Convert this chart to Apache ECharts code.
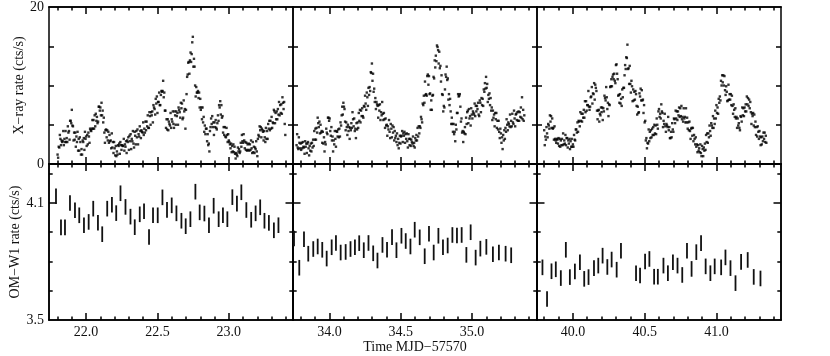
<!DOCTYPE html>
<html>
<head>
<meta charset="utf-8">
<script src="https://cdn.jsdelivr.net/npm/echarts@6/dist/echarts.min.js"></script>
<style>
  html, body { margin: 0; background: #fff; }
  #main { width: 830px; height: 356px; }
</style>
</head>
<body>
<div id="main"></div>
<script>
// X-ray rate (cts/s), one reading every DT days from each panel's start time
const DT = 0.004;
const xrayStart = [21.80, 33.77, 39.80];
const xray1 = [
  1.2, 0.8, 2.2, 2.1, 3.7, 3.2, 2.4, 3.0, 2.8, 2.9, 4.2, 2.4, 3.2, 2.8, 4.2, 2.8, 3.3, 2.8, 4.8, 4.0,
  4.2, 3.1, 5.5, 5.5, 5.2, 6.9, 4.9, 4.8, 3.0, 4.0, 3.1, 4.0, 2.2, 3.5, 2.8, 4.1, 1.7, 3.2, 1.7, 3.4,
  2.8, 1.2, 1.9, 1.2, 3.0, 2.8, 3.3, 1.8, 4.1, 3.2, 3.5, 2.3, 3.7, 2.5, 4.0, 3.5, 2.7, 4.5, 4.3, 4.2,
  4.5, 5.6, 4.5, 5.6, 4.5, 6.2, 4.8, 6.4, 5.5, 6.0, 5.2, 5.4, 7.3, 7.3, 6.8, 7.2, 6.2, 7.8, 6.2, 6.8,
  5.3, 5.9, 4.0, 2.7, 4.3, 4.4, 3.4, 4.3, 3.0, 4.1, 2.7, 3.7, 2.9, 3.0, 2.0, 3.9, 2.1, 2.8, 1.4, 2.8,
  2.0, 1.1, 2.3, 1.0, 1.6, 1.2, 2.4, 2.3, 2.6, 1.3, 2.8, 2.4, 1.8, 2.4, 2.3, 2.3, 3.2, 1.7, 2.5, 2.2,
  2.9, 1.4, 3.0, 2.8, 3.4, 1.8, 3.6, 2.9, 3.8, 1.9, 3.2, 2.9, 4.2, 2.6, 2.1, 4.1, 3.6, 2.5, 4.2, 3.4,
  4.4, 2.5, 3.8, 3.5, 4.8, 4.2, 3.3, 4.3, 4.1, 4.0, 5.3, 3.7, 4.5, 4.0, 5.4, 4.3, 5.4, 4.8, 6.2, 4.6,
  4.6, 6.6, 6.1, 5.0, 6.6, 6.2, 6.7, 5.3, 7.5, 7.2, 7.0, 6.3, 8.3, 7.7, 8.6, 6.5, 7.9, 7.9, 9.1, 7.5,
  7.5, 8.8, 9.3, 9.2, 9.3, 10.6, 8.5, 9.1, 6.8, 6.8, 4.6, 5.7, 4.4, 5.7, 4.3, 5.4, 5.1, 4.9, 6.5, 4.6,
  5.7, 5.4, 6.7, 5.1, 4.6, 6.7, 6.2, 5.0, 6.7, 6.1, 6.5, 5.0, 7.2, 6.9, 6.6, 5.9, 7.8, 7.1, 7.7, 5.7,
  5.9, 8.1, 6.7, 7.0, 4.5, 6.9, 8.9, 11.1, 11.4, 12.9, 13.0, 11.5, 13.2, 14.2, 13.0, 14.0, 15.5, 16.2, 12.4, 13.4,
  12.4, 10.0, 8.6, 9.8, 9.1, 9.1, 9.3, 8.4, 9.1, 7.2, 8.3, 6.9, 7.2, 5.7, 7.2, 5.3, 6.0, 4.1, 4.9, 3.8,
  4.5, 4.5, 2.9, 3.8, 2.4, 2.6, 1.6, 4.2, 4.7, 5.8, 5.1, 6.1, 4.7, 5.3, 3.7, 5.3, 4.7, 5.6, 4.6, 4.4,
  5.2, 6.2, 5.5, 7.5, 7.2, 8.0, 6.3, 7.5, 5.9, 6.1, 4.0, 4.7, 3.7, 4.7, 3.5, 3.4, 4.6, 3.7, 2.8, 3.8,
  3.0, 2.8, 2.5, 2.0, 2.6, 1.5, 2.3, 1.6, 2.5, 1.5, 2.2, 1.3, 0.7, 1.4, 1.2, 1.0, 2.1, 1.6, 1.9, 1.4,
  1.6, 2.7, 2.2, 3.7, 2.9, 2.7, 3.8, 3.0, 2.0, 2.8, 1.8, 2.7, 1.7, 2.5, 1.8, 2.6, 1.7, 2.5, 1.8, 3.0,
  2.0, 1.4, 2.8, 1.5, 2.2, 1.4, 2.1, 1.9, 2.9, 1.6, 1.0, 3.2, 3.7, 3.5, 4.8, 4.3, 4.7, 3.4, 4.5, 4.3,
  4.1, 3.0, 4.2, 3.4, 2.8, 4.6, 3.2, 4.2, 3.2, 5.1, 4.5, 5.5, 4.3, 5.5, 4.5, 6.0, 4.6, 5.3, 5.2, 6.9,
  6.7, 5.2, 6.5, 5.7, 6.7, 5.7, 7.0, 6.3, 7.9, 6.2, 7.5, 6.5, 7.6, 6.4, 8.5, 7.8, 7.0, 7.9, 5.1, 3.7
];
const xray2 = [
  2.4, 3.8, 2.1, 1.9, 3.4, 2.7, 2.0, 2.6, 1.8, 2.7, 2.0, 2.8, 2.2, 2.1, 1.3, 2.9, 2.2, 2.6, 1.4, 2.6,
  2.8, 2.0, 1.1, 2.3, 1.7, 2.6, 1.6, 2.7, 2.1, 3.1, 2.3, 4.2, 3.1, 4.5, 3.1, 4.6, 4.0, 5.9, 5.2, 4.7,
  5.4, 3.9, 5.0, 4.0, 4.2, 2.7, 4.1, 2.6, 3.4, 1.6, 2.8, 2.5, 4.5, 4.0, 3.8, 5.9, 5.9, 5.5, 5.8, 4.2,
  3.6, 4.7, 3.0, 3.5, 1.6, 3.0, 2.5, 4.2, 3.2, 2.2, 4.2, 4.1, 3.5, 4.4, 3.4, 4.5, 3.5, 5.3, 4.9, 6.2,
  7.3, 6.3, 7.8, 7.3, 7.0, 5.4, 4.3, 5.3, 4.7, 3.7, 5.0, 4.2, 4.7, 3.2, 4.6, 4.3, 5.2, 4.6, 6.6, 5.7,
  4.8, 5.8, 4.2, 4.5, 3.3, 5.2, 4.4, 5.3, 4.6, 6.5, 5.5, 6.9, 5.3, 6.8, 6.1, 7.1, 6.1, 5.9, 7.4, 7.3,
  8.7, 7.7, 6.9, 9.1, 8.5, 7.4, 9.7, 8.8, 9.8, 9.3, 11.7, 11.6, 12.8, 10.6, 11.5, 9.2, 9.6, 7.9, 8.4, 7.0,
  7.9, 7.6, 7.4, 5.9, 7.5, 6.8, 7.6, 5.6, 6.6, 6.2, 7.9, 6.4, 5.6, 6.5, 5.7, 4.6, 5.8, 4.9, 5.0, 3.6,
  4.8, 4.4, 5.6, 4.1, 3.3, 5.1, 4.5, 3.4, 4.9, 4.0, 4.7, 3.0, 4.2, 3.3, 3.6, 2.8, 3.9, 2.4, 3.2, 2.0,
  2.7, 3.6, 2.6, 3.5, 3.6, 4.2, 2.8, 3.9, 3.6, 4.1, 2.7, 3.8, 3.2, 3.9, 2.9, 2.1, 3.8, 3.2, 2.4, 3.2,
  2.3, 3.1, 2.8, 2.6, 3.5, 2.3, 2.7, 2.1, 3.3, 3.0, 3.7, 3.0, 4.6, 3.5, 4.8, 3.9, 4.8, 4.6, 6.0, 5.7,
  5.3, 7.7, 7.5, 8.7, 7.8, 10.5, 8.8, 8.9, 8.7, 11.2, 11.4, 10.1, 11.2, 8.9, 9.0, 6.9, 8.1, 6.9, 8.7, 8.8,
  11.1, 10.9, 13.2, 12.3, 13.8, 13.1, 15.1, 14.9, 14.5, 12.8, 14.3, 12.2, 12.5, 10.5, 11.3, 8.9, 8.8, 6.7, 7.4, 7.2,
  9.5, 11.4, 11.1, 12.4, 10.7, 10.9, 8.2, 8.9, 7.5, 8.3, 6.7, 5.1, 5.9, 5.1, 4.1, 5.1, 3.8, 4.1, 2.9, 5.0,
  4.4, 6.5, 6.5, 8.9, 8.6, 8.7, 8.9, 7.3, 5.4, 5.8, 4.0, 4.2, 2.8, 4.1, 3.9, 4.7, 3.8, 5.9, 5.1, 6.6,
  6.8, 5.2, 7.0, 5.8, 6.1, 4.9, 7.1, 6.3, 5.8, 6.7, 6.5, 6.3, 7.7, 6.1, 7.4, 6.7, 7.4, 7.0, 7.8, 6.3,
  6.1, 8.1, 7.8, 6.6, 8.4, 7.5, 8.3, 7.4, 9.5, 9.2, 10.3, 9.6, 11.1, 9.7, 10.2, 7.9, 8.8, 8.3, 9.0, 7.5,
  8.4, 6.8, 7.2, 5.6, 6.8, 5.9, 6.3, 4.8, 6.5, 5.7, 6.5, 4.6, 5.5, 4.4, 5.5, 4.1, 3.3, 4.5, 3.9, 2.7,
  3.4, 1.9, 3.7, 3.0, 4.3, 3.2, 4.6, 4.1, 5.7, 5.0, 4.3, 5.3, 5.1, 4.8, 6.3, 4.7, 5.5, 4.8, 6.4, 5.3,
  5.1, 6.8, 5.8, 4.8, 6.3, 6.4, 5.6, 6.6, 5.5, 6.7, 5.5, 6.6, 6.0, 7.2, 5.9, 8.5, 5.7, 6.9, 5.5, 6.2
];
const xray3 = [
  4.3, 2.4, 3.5, 3.1, 4.7, 3.9, 3.4, 5.1, 4.9, 4.5, 6.2, 5.4, 6.1, 4.6, 5.8, 4.5, 4.6, 3.1, 4.8, 3.2,
  3.0, 2.7, 3.2, 3.1, 2.6, 3.3, 2.3, 3.2, 2.2, 3.0, 2.4, 3.2, 2.4, 3.9, 2.5, 3.0, 2.6, 3.7, 2.4, 3.3,
  3.3, 2.1, 3.0, 2.6, 3.2, 1.9, 2.9, 2.2, 3.2, 2.2, 2.5, 2.2, 3.7, 3.1, 3.0, 4.4, 4.4, 4.0, 5.3, 4.1,
  5.5, 5.4, 4.8, 6.6, 5.5, 6.4, 5.4, 6.4, 5.9, 6.9, 5.9, 8.0, 6.6, 8.0, 6.8, 7.5, 7.5, 9.3, 7.3, 6.9,
  7.3, 8.5, 8.6, 9.8, 7.7, 9.0, 8.9, 10.3, 8.2, 10.1, 9.7, 9.3, 6.8, 5.7, 6.8, 6.9, 5.4, 6.4, 6.2, 7.2,
  6.6, 7.2, 5.6, 7.1, 6.7, 8.7, 8.4, 8.1, 9.8, 8.5, 7.0, 7.8, 6.1, 7.6, 7.5, 9.8, 9.9, 10.8, 9.9, 11.1,
  11.4, 10.8, 11.5, 10.6, 10.3, 12.6, 12.7, 11.5, 10.8, 8.7, 8.8, 7.8, 8.9, 7.7, 8.3, 7.4, 9.5, 8.5, 9.7, 9.7,
  11.3, 12.6, 12.1, 13.6, 13.5, 15.2, 12.1, 12.2, 10.2, 12.5, 10.2, 9.1, 10.6, 9.9, 8.0, 9.5, 8.1, 9.2, 8.2, 9.3,
  8.9, 7.4, 6.3, 7.3, 6.5, 6.6, 9.0, 8.6, 9.6, 8.1, 9.4, 8.1, 8.2, 6.5, 7.5, 5.3, 5.5, 3.0, 3.3, 2.0,
  2.7, 2.6, 4.4, 2.9, 4.1, 3.3, 4.3, 3.4, 4.5, 3.7, 4.7, 3.7, 5.0, 3.9, 4.9, 3.8, 5.8, 5.0, 4.5, 6.7,
  7.0, 6.0, 6.4, 5.8, 7.6, 6.7, 6.5, 4.7, 5.5, 5.1, 6.4, 4.8, 4.1, 5.1, 4.9, 4.7, 6.0, 4.3, 4.7, 3.3,
  3.3, 4.1, 3.4, 5.2, 4.4, 4.1, 5.8, 5.7, 5.2, 6.8, 5.8, 6.7, 5.6, 6.7, 6.2, 7.2, 6.0, 7.1, 6.1, 7.4,
  5.7, 6.0, 5.4, 7.1, 5.8, 6.0, 5.3, 7.1, 5.3, 5.9, 4.5, 5.3, 4.3, 5.4, 4.2, 3.2, 4.5, 4.6, 3.6, 4.6,
  2.9, 3.7, 3.2, 2.5, 3.4, 2.2, 2.5, 1.5, 2.4, 1.7, 2.0, 1.5, 2.5, 1.4, 1.0, 2.3, 1.9, 1.0, 2.1, 1.7,
  2.6, 1.8, 3.7, 2.8, 3.9, 2.7, 3.9, 3.4, 4.9, 4.2, 3.6, 5.2, 4.9, 4.6, 6.1, 4.6, 5.8, 5.1, 6.8, 5.8,
  7.5, 6.5, 7.2, 6.4, 8.3, 7.8, 8.6, 8.1, 10.6, 10.0, 11.3, 10.4, 11.3, 10.0, 11.2, 9.4, 8.8, 9.9, 9.2, 8.0,
  8.1, 10.1, 8.2, 8.9, 8.2, 8.9, 7.5, 8.7, 7.4, 6.4, 7.6, 6.9, 6.0, 7.1, 5.8, 6.0, 4.6, 5.8, 4.9, 5.2,
  4.6, 4.3, 6.1, 6.0, 5.4, 7.2, 6.2, 7.1, 6.1, 7.2, 6.7, 7.6, 6.7, 8.6, 7.6, 8.4, 7.4, 8.2, 7.1, 7.9,
  6.6, 5.1, 6.4, 6.1, 6.5, 4.9, 6.3, 4.7, 5.4, 3.7, 4.7, 3.5, 4.8, 4.1, 3.2, 4.2, 3.5, 2.4, 3.4, 2.5,
  3.5, 2.9, 4.0, 3.2, 4.0, 2.8, 3.6, 2.7
];

// OM-W1 rate (cts/s) with a common half error bar
const omErr = 0.04;
const omTime1 = [21.789, 21.824, 21.852, 21.887, 21.922, 21.952, 21.985, 22.018, 22.050, 22.083,
  22.113, 22.148, 22.181, 22.211, 22.241, 22.276, 22.311, 22.341, 22.376, 22.406,
  22.441, 22.469, 22.502, 22.535, 22.567, 22.600, 22.633, 22.668, 22.698, 22.731,
  22.766, 22.796, 22.829, 22.861, 22.894, 22.929, 22.959, 22.990, 23.025, 23.057,
  23.088, 23.123, 23.157, 23.188, 23.220, 23.250, 23.281, 23.316, 23.348];
const omRate1 = [4.135, 3.975, 3.975, 4.100, 4.063, 4.037, 3.986, 4.003, 4.071, 3.999,
  3.940, 4.071, 4.091, 4.048, 4.150, 4.080, 4.030, 3.976, 4.042, 4.058,
  3.926, 4.037, 4.037, 4.129, 4.065, 4.088, 4.047, 4.009, 3.981, 4.017,
  4.158, 4.052, 4.046, 3.986, 4.086, 4.017, 4.037, 4.017, 4.130, 4.097,
  4.155, 4.064, 4.014, 4.047, 4.078, 4.009, 3.998, 3.960, 3.986];
const omTime2 = [33.752, 33.789, 33.822, 33.852, 33.887, 33.918, 33.950, 33.981, 34.016, 34.046,
  34.079, 34.114, 34.148, 34.179, 34.209, 34.241, 34.274, 34.307, 34.337, 34.372,
  34.404, 34.439, 34.470, 34.505, 34.535, 34.568, 34.598, 34.633, 34.668, 34.698,
  34.731, 34.764, 34.796, 34.829, 34.862, 34.894, 34.927, 34.960, 34.990, 35.025,
  35.058, 35.100, 35.146, 35.188, 35.235, 35.274];
const omRate2 = [3.918, 3.768, 3.914, 3.840, 3.864, 3.877, 3.860, 3.815, 3.873, 3.895,
  3.846, 3.849, 3.864, 3.873, 3.894, 3.858, 3.895, 3.842, 3.805, 3.885,
  3.860, 3.925, 3.858, 3.932, 3.905, 3.877, 3.963, 3.924, 3.827, 3.942,
  3.846, 3.932, 3.873, 3.882, 3.936, 3.933, 3.936, 3.834, 3.950, 3.820,
  3.866, 3.875, 3.837, 3.846, 3.840, 3.832];
const omTime3 = [39.788, 39.820, 39.851, 39.881, 39.916, 39.951, 39.979, 40.014, 40.049, 40.079,
  40.109, 40.147, 40.177, 40.207, 40.240, 40.270, 40.305, 40.335, 40.440, 40.468,
  40.503, 40.533, 40.566, 40.592, 40.631, 40.662, 40.697, 40.729, 40.762, 40.795,
  40.827, 40.860, 40.893, 40.925, 40.958, 40.988, 41.033, 41.063, 41.098, 41.133,
  41.172, 41.218, 41.260, 41.307];
const omRate3 = [3.770, 3.608, 3.750, 3.760, 3.715, 3.860, 3.720, 3.749, 3.796, 3.711,
  3.720, 3.766, 3.779, 3.830, 3.772, 3.810, 3.758, 3.855, 3.740, 3.728,
  3.800, 3.813, 3.722, 3.722, 3.779, 3.740, 3.796, 3.779, 3.731, 3.855,
  3.762, 3.848, 3.894, 3.775, 3.740, 3.775, 3.770, 3.821, 3.766, 3.689,
  3.798, 3.808, 3.721, 3.713];

// axes
const timeRanges = [[21.74, 23.45], [33.745, 35.455], [39.75, 41.45]];
const timeLabels = [[22.0, 22.5, 23.0], [34.0, 34.5, 35.0], [40.0, 40.5, 41.0]];
const xrayTicks = [5, 10, 15];
const xrayLabels = [0, 20];
const omMajorTicks = [4.1];
const omMinorTicks = [3.65, 3.8, 3.95, 4.25];
const omLabels = [3.5, 4.1];

const xrayData = [xray1, xray2, xray3];
const omTimes = [omTime1, omTime2, omTime3];
const omRates = [omRate1, omRate2, omRate3];

const FONT = 'Liberation Serif';
const INK = '#000';

function minorTimeTicks(range, major) {
  const out = [];
  for (let k = Math.ceil(range[0] * 10); k <= Math.floor(range[1] * 10); k++) {
    const v = k / 10;
    if (!major.some(m => Math.abs(m - v) < 1e-6)) out.push(v);
  }
  return out;
}

function axis(gridIndex, position, min, max, ticks, len, labels, fmt) {
  return {
    type: 'value', gridIndex, position, min, max,
    axisLine: { show: true, onZero: false, lineStyle: { color: INK, width: 1.5 } },
    axisTick: ticks.length
      ? { show: true, inside: true, length: len, customValues: ticks, lineStyle: { color: INK, width: 1.5 } }
      : { show: false },
    axisLabel: labels
      ? { show: true, customValues: labels, formatter: fmt, margin: 5, color: '#111', fontFamily: FONT, fontSize: 14 }
      : { show: false },
    splitLine: { show: false },
    nameTextStyle: { fontFamily: FONT, fontSize: 14, color: '#111' },
  };
}

const grids = [], xAxes = [], yAxes = [], series = [];
const rows = [
  { top: 7, height: 157, min: 0, max: 20 },
  { top: 164, height: 156, min: 3.5, max: 4.3 },
];

rows.forEach((row, r) => {
  for (let p = 0; p < 3; p++) {
    const g = grids.length;
    grids.push({ left: 49 + p * 244, top: row.top, width: 244, height: row.height });
    const [t0, t1] = timeRanges[p];
    const minor = minorTimeTicks(timeRanges[p], timeLabels[p]);
    const xi = xAxes.length;
    const xb = axis(g, 'bottom', t0, t1, timeLabels[p], 7, r === 1 ? timeLabels[p] : null, v => v.toFixed(1));
    if (r === 1 && p === 1) {
      xb.name = 'Time MJD\u221257570';
      xb.nameLocation = 'middle';
      xb.nameGap = 17;
    }
    xAxes.push(xb,
      axis(g, 'bottom', t0, t1, minor, 3.5),
      axis(g, 'top', t0, t1, timeLabels[p], 7),
      axis(g, 'top', t0, t1, minor, 3.5));

    const yi = yAxes.length;
    let yl;
    if (r === 0) {
      yl = axis(g, 'left', row.min, row.max, xrayTicks, 5, p === 0 ? xrayLabels : null, v => String(v));
      yAxes.push(yl, axis(g, 'right', row.min, row.max, xrayTicks, 5));
    } else {
      yl = axis(g, 'left', row.min, row.max, omMajorTicks, 7.5, p === 0 ? omLabels : null, v => v.toFixed(1));
      yAxes.push(yl,
        axis(g, 'left', row.min, row.max, omMinorTicks, 3.7),
        axis(g, 'right', row.min, row.max, omMajorTicks, 7.5),
        axis(g, 'right', row.min, row.max, omMinorTicks, 3.7));
    }
    if (p === 0) {
      yl.name = r === 0 ? 'X\u2212ray rate (cts/s)' : 'OM\u2212W1 rate (cts/s)';
      yl.nameLocation = 'middle';
      yl.nameGap = 22;
    }

    if (r === 0) {
      series.push({
        type: 'scatter', xAxisIndex: xi, yAxisIndex: yi,
        symbol: 'rect', symbolSize: 2.4,
        itemStyle: { color: INK },
        data: xrayData[p].map((v, i) => [xrayStart[p] + i * DT, v]),
      });
    } else {
      series.push({
        type: 'custom', xAxisIndex: xi, yAxisIndex: yi,
        data: omTimes[p].map((t, i) => [t, omRates[p][i], omErr]),
        encode: { x: 0, y: 1 },
        renderItem(params, api) {
          const lo = api.coord([api.value(0), api.value(1) - api.value(2)]);
          const hi = api.coord([api.value(0), api.value(1) + api.value(2)]);
          return {
            type: 'line',
            shape: { x1: lo[0], y1: lo[1], x2: hi[0], y2: hi[1] },
            style: { stroke: '#111', lineWidth: 1.8 },
          };
        },
      });
    }
  }
});

const chart = echarts.init(document.getElementById('main'));
chart.setOption({
  animation: false,
  backgroundColor: '#fff',
  grid: grids,
  xAxis: xAxes,
  yAxis: yAxes,
  series,
});
</script>
</body>
</html>
